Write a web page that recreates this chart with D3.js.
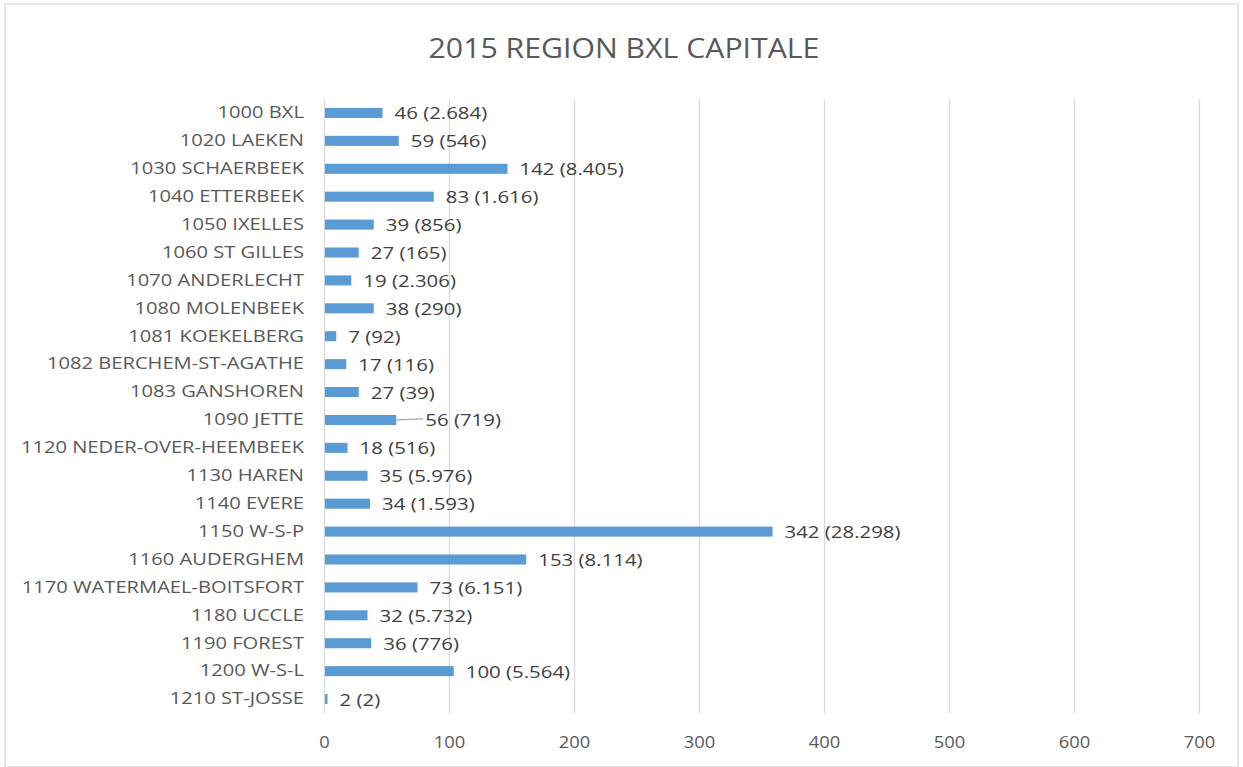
<!DOCTYPE html>
<html>
<head>
<meta charset="utf-8">
<script src="https://cdn.jsdelivr.net/npm/d3@7"></script>
<style>
    body { margin: 0; background: #fff; }
    svg text { font-family: "Open Sans", "Noto Sans", sans-serif; }
    .grid line { stroke: #d9d9d9; stroke-width: 1.3; }
    .grid .domain { display: none; }
</style>
</head>
<body>
<div id="chart"></div>
<script>
// chart data
var communes = ["1000 BXL", "1020 LAEKEN", "1030 SCHAERBEEK", "1040 ETTERBEEK", "1050 IXELLES",
    "1060 ST GILLES", "1070 ANDERLECHT", "1080 MOLENBEEK", "1081 KOEKELBERG", "1082 BERCHEM-ST-AGATHE",
    "1083 GANSHOREN", "1090 JETTE", "1120 NEDER-OVER-HEEMBEEK", "1130 HAREN", "1140 EVERE",
    "1150 W-S-P", "1160 AUDERGHEM", "1170 WATERMAEL-BOITSFORT", "1180 UCCLE", "1190 FOREST",
    "1200 W-S-L", "1210 ST-JOSSE"];
var barValues = [46, 59, 146, 87, 39, 27, 21, 39, 9, 17, 27, 57, 18, 34, 36, 358, 161, 74, 34, 37, 103, 2];
var dataLabels = ["46 (2.684)", "59 (546)", "142 (8.405)", "83 (1.616)", "39 (856)", "27 (165)",
    "19 (2.306)", "38 (290)", "7 (92)", "17 (116)", "27 (39)", "56 (719)", "18 (516)", "35 (5.976)",
    "34 (1.593)", "342 (28.298)", "153 (8.114)", "73 (6.151)", "32 (5.732)", "36 (776)",
    "100 (5.564)", "2 (2)"];
var xTicks = [0, 100, 200, 300, 400, 500, 600, 700];
var movedLabels = ["1090 JETTE"]; // label dragged away from its bar, with a leader line
var title = "2015 REGION BXL CAPITALE";

var W = 1243, H = 767;
var margin = {top: 99, right: 44, bottom: 54, left: 324};

// the source picture has wide, stretched lettering
function stretch(sel, k) {
    sel.each(function () {
        var len = this.getComputedTextLength();
        d3.select(this)
            .attr("textLength", len * k)
            .attr("lengthAdjust", "spacingAndGlyphs");
    });
}

var svg = d3.select("#chart").append("svg")
    .attr("width", W)
    .attr("height", H);

// chart border
svg.append("rect")
    .attr("x", 5).attr("y", 4)
    .attr("width", W - 10).attr("height", H - 4)
    .attr("fill", "none")
    .attr("stroke", "#d9d9d9")
    .attr("stroke-width", 1.3);

svg.append("text")
    .attr("x", 624)
    .attr("y", 58)
    .attr("text-anchor", "middle")
    .attr("fill", "#595959")
    .attr("font-size", 27)
    .text(title)
    .call(stretch, 1.12);

var width = W - margin.left - margin.right;
var height = H - margin.top - margin.bottom;
var g = svg.append("g")
    .attr("transform", "translate(" + margin.left + "," + margin.top + ")");

var x = d3.scaleLinear().domain([0, 700]).range([0, 875]);
var y = d3.scaleBand().domain(communes).range([0, height]).paddingInner(0.64).paddingOuter(0.32);

// vertical gridlines
g.append("g")
    .attr("class", "grid")
    .call(d3.axisBottom(x).tickValues(xTicks).tickSize(height).tickFormat(""));

// x tick labels
g.append("g")
    .attr("transform", "translate(0," + height + ")")
    .call(d3.axisBottom(x).tickValues(xTicks).tickSize(0).tickPadding(23))
    .call(function (a) { a.select(".domain").remove(); })
    .selectAll("text")
    .attr("font-family", "'Open Sans', 'Noto Sans', sans-serif")
    .attr("font-size", 17)
    .attr("fill", "#595959")
    .call(stretch, 1.08);

// category labels
g.append("g")
    .call(d3.axisLeft(y).tickSize(0).tickPadding(20))
    .call(function (a) { a.select(".domain").remove(); })
    .selectAll("text")
    .attr("font-family", "'Open Sans', 'Noto Sans', sans-serif")
    .attr("font-size", 16.5)
    .attr("fill", "#595959")
    .call(stretch, 1.22);

var rows = communes.map(function (c, i) {
    return {name: c, value: barValues[i], label: dataLabels[i]};
});

// bars
g.selectAll(".bar")
    .data(rows)
    .enter().append("rect")
    .attr("class", "bar")
    .attr("x", x(0) + 1)
    .attr("y", function (d) { return y(d.name); })
    .attr("width", function (d) { return Math.max(1, x(d.value) - x(0)); })
    .attr("height", y.bandwidth())
    .attr("fill", "#5b9bd5");

// leader lines for moved labels
g.selectAll(".leader")
    .data(rows.filter(function (d) { return movedLabels.indexOf(d.name) >= 0; }))
    .enter().append("line")
    .attr("x1", function (d) { return x(d.value) + 1; })
    .attr("x2", function (d) { return x(d.value) + 28; })
    .attr("y1", function (d) { return y(d.name) + y.bandwidth() / 2; })
    .attr("y2", function (d) { return y(d.name) + y.bandwidth() / 2 - 1; })
    .attr("stroke", "#a6a6a6")
    .attr("stroke-width", 1.3);

// data labels
g.selectAll(".value-label")
    .data(rows)
    .enter().append("text")
    .attr("class", "value-label")
    .attr("x", function (d) {
        var off = movedLabels.indexOf(d.name) >= 0 ? 30 : 13;
        return x(d.value) + off;
    })
    .attr("y", function (d) { return y(d.name) + y.bandwidth() / 2; })
    .attr("dy", "0.38em")
    .attr("font-size", 17)
    .attr("fill", "#404040")
    .text(function (d) { return d.label; })
    .call(stretch, 1.2);
</script>
</body>
</html>
